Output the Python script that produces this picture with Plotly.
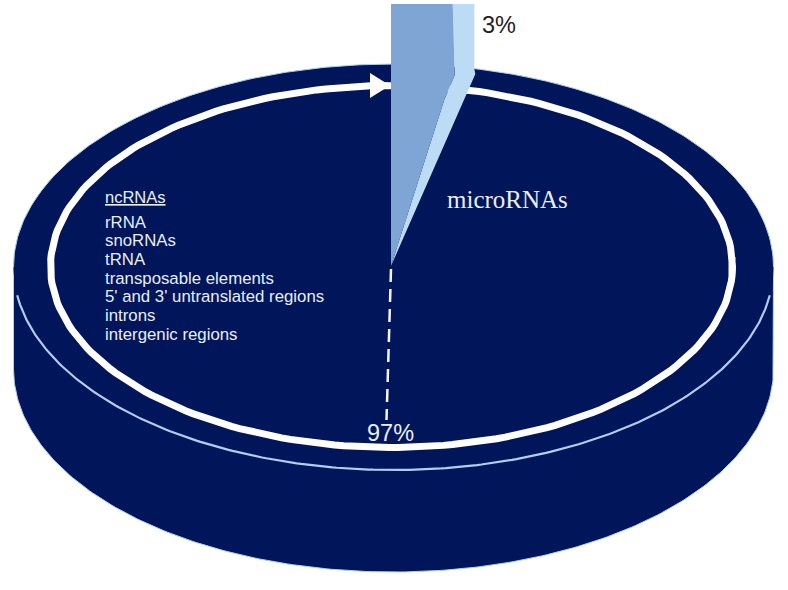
import numpy as np
import plotly.graph_objects as go

# the two shares shown on the disc
categories = ['ncRNAs', 'microRNAs']
shares = [97, 3]
share_labels = ['97%', '3%']
ncrna_types = ['rRNA', 'snoRNAs', 'tRNA', 'transposable elements',
               "5' and 3' untranslated regions", 'introns', 'intergenic regions']

NAVY = '#00155a'
EDGE = '#b0cff0'
MID_BLUE = '#7fa5d5'
PALE_BLUE = '#bcdcf6'

# picture geometry, in pixels of the 788x590 canvas
CX, CY, RX, RY = 393.5, 267, 380, 203
DEPTH = 102
RING_CX, RING_CY, RING_RX, RING_RY = 391.5, 266.5, 341, 181
TIP_X, TIP_Y = 391, 266
TOP_Y = 4
SPREAD = 1.18   # the drawn wedge is a bit wider than a true 3%


def arc(cx, cy, rx, ry, start, stop, n=240):
    t = np.radians(np.linspace(start, stop, n))
    return cx + rx * np.cos(t), cy + ry * np.sin(t)


def add_poly(fig, x, y, color):
    fig.add_trace(go.Scatter(x=x, y=y, mode='lines', fill='toself', fillcolor=color,
                             line=dict(color=color, width=0), hoverinfo='skip'))


def add_line(fig, x, y, color, width, dash='solid'):
    fig.add_trace(go.Scatter(x=x, y=y, mode='lines', hoverinfo='skip',
                             line=dict(color=color, width=width, dash=dash)))


fig = go.Figure()

# side wall of the disc
bx, by = arc(CX, CY + DEPTH, RX, RY, 0, 180)
side_x = np.concatenate([[CX + RX], bx, [CX - RX]])
side_y = np.concatenate([[CY], by, [CY]])
add_poly(fig, side_x, side_y, NAVY)
add_line(fig, side_x, side_y, EDGE, 1)

# top face
tx, ty = arc(CX, CY, RX, RY, 0, 360)
add_poly(fig, tx, ty, NAVY)
ux, uy = arc(CX, CY, RX, RY, 180, 360)
add_line(fig, ux, uy, EDGE, 1)
fx, fy = arc(CX, CY, RX, RY, 8, 172)
add_line(fig, fx, fy, EDGE, 2.2)

# white ring and its arrow head, overlapped so no seam shows
rx, ry = arc(RING_CX, RING_CY, RING_RX, RING_RY, -3, 363)
add_line(fig, rx, ry, '#ffffff', 7)
add_poly(fig, [370, 390, 370, 370], [73, 85.5, 98, 73], '#ffffff')

# lifted microRNA wedge
angle = 2 * np.pi * shares[1] / 100 * SPREAD
outer_x = TIP_X + RX * np.sin(angle)
outer_y = CY - RY * np.cos(angle)
split_x = TIP_X + 0.76 * (outer_x - TIP_X)
bend_x, bend_y = split_x - 10.5, outer_y + 31
add_poly(fig,
         [TIP_X, outer_x + 0.5, outer_x - 0.5, outer_x - 0.5, split_x - 2, split_x, bend_x, TIP_X],
         [TIP_Y, outer_y + 5, outer_y, TOP_Y, TOP_Y, outer_y + 6, bend_y, TIP_Y], PALE_BLUE)
add_poly(fig,
         [TIP_X, TIP_X, split_x - 2, split_x, bend_x, TIP_X],
         [TIP_Y, TOP_Y, TOP_Y, outer_y + 6, bend_y, TIP_Y], MID_BLUE)

# dashed leader down to the 97% label
add_line(fig, [TIP_X, 386.5], [TIP_Y + 3, 420], '#f2f5fa', 2.5, dash='13px,7px')

ink = '#e9eef7'
fig.add_annotation(x=390.5, y=433, text=share_labels[0], font=dict(size=23.5, color=ink))
fig.add_annotation(x=499, y=25, text=share_labels[1], font=dict(size=23.5, color='#222222'))
fig.add_annotation(x=507, y=199, text=categories[1],
                   font=dict(family='Liberation Serif', size=25, color=ink))
fig.add_annotation(x=103, y=197, xanchor='left', text='<u>' + categories[0] + '</u>',
                   font=dict(size=16.5, color=ink))
for i, name in enumerate(ncrna_types):
    fig.add_annotation(x=103, y=222 + i * 18.7, xanchor='left', text=name,
                       font=dict(size=16.8, color=ink))

fig.update_annotations(showarrow=False, xref='x', yref='y')
fig.update_layout(
    width=788, height=590, margin=dict(l=0, r=0, t=0, b=0),
    paper_bgcolor='white', plot_bgcolor='white', showlegend=False,
    font=dict(family='Liberation Sans'),
    xaxis=dict(range=[0, 788], visible=False, fixedrange=True),
    yaxis=dict(range=[590, 0], visible=False, fixedrange=True),
)
fig.write_html("out.html", config={'displayModeBar': False},
               post_script="document.body.style.margin = '0';")
